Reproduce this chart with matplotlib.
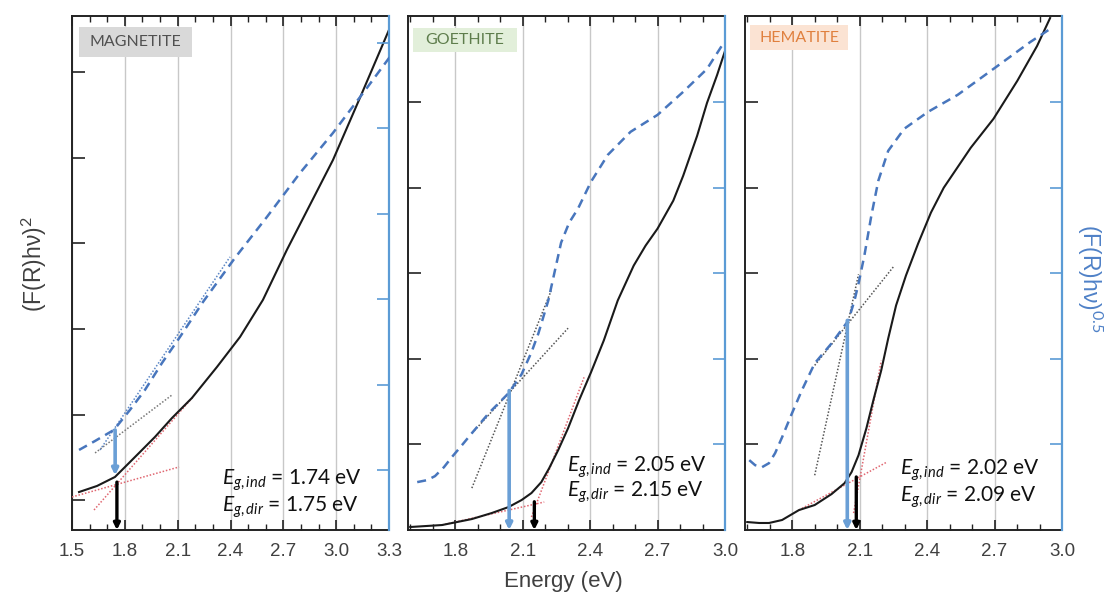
import matplotlib
matplotlib.use('Agg')
import matplotlib.pyplot as plt
from matplotlib.patches import Rectangle
from matplotlib.ticker import MultipleLocator, FormatStrFormatter

plt.rcParams['font.family'] = ['Liberation Sans', 'DejaVu Sans']
plt.rcParams['mathtext.fontset'] = 'custom'
plt.rcParams['mathtext.rm'] = 'Lato'
plt.rcParams['mathtext.it'] = 'Lato:italic'

# ---------------- data ----------------
minerals = ['MAGNETITE', 'GOETHITE', 'HEMATITE']
eg_ind = [1.74, 2.05, 2.02]
eg_dir = [1.75, 2.15, 2.09]

# MAGNETITE
mag_E_dir = [1.540, 1.642, 1.744, 1.801, 1.886, 1.971, 2.068, 2.181, 2.323, 2.454,
             2.584, 2.720, 2.851, 2.982, 3.135, 3.300]
mag_dir = [0.444, 0.515, 0.620, 0.737, 0.912, 1.088, 1.310, 1.544, 1.906, 2.257,
           2.690, 3.275, 3.801, 4.327, 5.053, 5.848]
mag_E_ind = [1.540, 1.631, 1.738, 1.829, 1.914, 2.011, 2.113, 2.244, 2.425, 2.607,
             2.795, 2.982, 3.175, 3.305]
mag_ind = [0.936, 1.041, 1.170, 1.404, 1.637, 1.953, 2.257, 2.667, 3.181, 3.661,
           4.175, 4.643, 5.170, 5.532]
mag_fit_ind_base = ([1.631, 2.068], [0.901, 1.579])
mag_fit_ind_edge = ([1.659, 2.397], [0.936, 3.193])
mag_fit_dir_base = ([1.500, 2.108], [0.386, 0.737])
mag_fit_dir_edge = ([1.625, 2.187], [0.234, 1.556])

# GOETHITE
goe_E_dir = [1.600, 1.741, 1.874, 1.962, 2.037, 2.095, 2.139, 2.183, 2.218, 2.258,
             2.302, 2.351, 2.404, 2.461, 2.523, 2.594, 2.647, 2.700, 2.770, 2.814,
             2.876, 2.920, 2.965, 3.000]
goe_dir = [0.035, 0.058, 0.128, 0.198, 0.268, 0.350, 0.432, 0.560, 0.723, 0.934,
           1.190, 1.517, 1.844, 2.217, 2.684, 3.092, 3.326, 3.524, 3.851, 4.142,
           4.609, 4.994, 5.321, 5.601]
goe_E_ind = [1.631, 1.675, 1.710, 1.750, 1.785, 1.830, 1.874, 1.949, 2.037, 2.095,
             2.139, 2.170, 2.214, 2.271, 2.307, 2.346, 2.404, 2.479, 2.580, 2.700,
             2.814, 2.920, 2.991]
goe_ind = [0.560, 0.583, 0.630, 0.735, 0.852, 0.992, 1.132, 1.365, 1.599, 1.820,
           2.077, 2.299, 2.684, 3.360, 3.594, 3.757, 4.072, 4.387, 4.656, 4.854,
           5.123, 5.391, 5.683]
goe_fit_ind_base = ([1.874, 2.302], [1.130, 2.360])
goe_fit_ind_edge = ([1.874, 2.227], [0.490, 2.800])
goe_fit_dir_base = ([1.741, 2.196], [0.058, 0.327])
goe_fit_dir_edge = ([2.139, 2.373], [0.152, 1.785])

# HEMATITE
hem_E_dir = [1.600, 1.653, 1.697, 1.755, 1.830, 1.900, 1.975, 2.033, 2.064, 2.095,
             2.130, 2.161, 2.196, 2.227, 2.262, 2.306, 2.360, 2.417, 2.474, 2.594,
             2.695, 2.801, 2.889, 2.947]
hem_dir = [0.093, 0.082, 0.082, 0.117, 0.233, 0.292, 0.420, 0.548, 0.677, 0.875,
           1.190, 1.517, 1.867, 2.240, 2.626, 2.976, 3.349, 3.711, 4.002, 4.469,
           4.807, 5.251, 5.659, 5.986]
hem_E_ind = [1.609, 1.635, 1.666, 1.697, 1.724, 1.755, 1.799, 1.843, 1.900, 1.975,
             2.050, 2.077, 2.095, 2.121, 2.152, 2.183, 2.227, 2.298, 2.404, 2.536,
             2.695, 2.859, 2.960]
hem_ind = [0.817, 0.758, 0.735, 0.782, 0.899, 1.085, 1.365, 1.634, 1.949, 2.182,
           2.450, 2.684, 2.882, 3.209, 3.676, 4.084, 4.434, 4.691, 4.889, 5.088,
           5.391, 5.706, 5.881]
hem_fit_ind_base = ([1.900, 2.254], [1.925, 3.090])
hem_fit_ind_edge = ([1.900, 2.095], [0.640, 2.990])
hem_fit_dir_base = ([1.830, 2.218], [0.233, 0.790])
hem_fit_dir_edge = ([2.073, 2.196], [0.198, 1.980])

# arrow positions
arrow_ind_E = [1.745, 2.040, 2.045]
arrow_ind_top = [1.17, 1.63, 2.45]
arrow_ind_bottom = [0.64, 0.0, 0.0]
arrow_dir_E = [1.755, 2.152, 2.085]
arrow_dir_top = [0.56, 0.33, 0.62]

x_limits = [(1.5, 3.3), (1.59, 3.0), (1.59, 3.0)]
x_ticks = [[1.5, 1.8, 2.1, 2.4, 2.7, 3.0, 3.3],
           [1.8, 2.1, 2.4, 2.7, 3.0],
           [1.8, 2.1, 2.4, 2.7, 3.0]]

# ---------------- styling ----------------
W, H = 1111, 605
fig = plt.figure(figsize=(W / 100, H / 100), dpi=100)
fig.patch.set_facecolor('white')

lefts_px = [72, 408, 745]
ax_w, ax_h, ax_bottom = 317, 514, 75
left_ticks = [[0.35, 1.35, 2.35, 3.35, 4.35, 5.35], [1, 2, 3, 4, 5], [1, 2, 3, 4, 5]]
right_ticks = [[0.70, 1.70, 2.70, 3.70, 4.70, 5.70], [1, 2, 3, 4, 5], [1, 2, 3, 4, 5]]

box_fc = ['#d9d9d9', '#e2efda', '#fbe3d3']
box_tc = ['#505050', '#5e7d4c', '#e0803e']
box_geom = [(0.022, 0.920, 0.357, 0.059), (0.016, 0.930, 0.328, 0.047),
            (0.016, 0.934, 0.309, 0.048)]
text_pos = [(0.473, 0.097, 0.045), (0.502, 0.123, 0.074), (0.489, 0.117, 0.064)]

BLUE_SP = '#5b9bd5'
DASH_C = '#4876bd'
ARROW_B = '#6a9fd6'
RED = '#e06670'
GRAY = '#555555'
TXT = '#404040'

panels = [
    dict(Ed=mag_E_dir, d=mag_dir, Ei=mag_E_ind, i=mag_ind,
         fib=mag_fit_ind_base, fie=mag_fit_ind_edge, fdb=mag_fit_dir_base, fde=mag_fit_dir_edge),
    dict(Ed=goe_E_dir, d=goe_dir, Ei=goe_E_ind, i=goe_ind,
         fib=goe_fit_ind_base, fie=goe_fit_ind_edge, fdb=goe_fit_dir_base, fde=goe_fit_dir_edge),
    dict(Ed=hem_E_dir, d=hem_dir, Ei=hem_E_ind, i=hem_ind,
         fib=hem_fit_ind_base, fie=hem_fit_ind_edge, fdb=hem_fit_dir_base, fde=hem_fit_dir_edge),
]

for k, p in enumerate(panels):
    ax = fig.add_axes([lefts_px[k] / W, ax_bottom / H, ax_w / W, ax_h / H])
    tw = ax.twinx()
    for a in (ax, tw):
        a.set_xlim(*x_limits[k])
        a.set_ylim(0, 6.01)
    ax.set_axisbelow(True)
    ax.grid(axis='x', which='major', color='#c8c8c8', lw=1.0)

    # fits (dotted)
    tw.plot(*p['fib'], ls=(0, (1, 1.2)), color=GRAY if k else '#777777', lw=1.1, zorder=3)
    tw.plot(*p['fie'], ls=(0, (1, 1.2)), color=GRAY if k else '#5b86c5', lw=1.1, zorder=3)
    ax.plot(*p['fdb'], ls=(0, (1, 1.2)), color=RED, lw=1.1, zorder=3)
    ax.plot(*p['fde'], ls=(0, (1, 1.2)), color=RED, lw=1.1, zorder=3)

    # curves
    ax.plot(p['Ed'], p['d'], color='#1a1a1a', lw=1.5, zorder=4)
    tw.plot(p['Ei'], p['i'], color=DASH_C, lw=1.8, dashes=(3.6, 2.4), zorder=4)

    # arrows
    tw.annotate('', xy=(arrow_ind_E[k], arrow_ind_bottom[k]), xytext=(arrow_ind_E[k], arrow_ind_top[k]),
                arrowprops=dict(arrowstyle='-|>', color=ARROW_B, lw=2.6, mutation_scale=9,
                                shrinkA=0, shrinkB=0), zorder=5)
    ax.annotate('', xy=(arrow_dir_E[k], 0.0), xytext=(arrow_dir_E[k], arrow_dir_top[k]),
                arrowprops=dict(arrowstyle='-|>', color='black', lw=2.4, mutation_scale=9,
                                shrinkA=0, shrinkB=0), zorder=5)

    # spines / ticks
    for s in ('left', 'bottom', 'top'):
        ax.spines[s].set_color('#222222')
        ax.spines[s].set_linewidth(1.4)
    ax.spines['right'].set_visible(False)
    for s in ('left', 'bottom', 'top'):
        tw.spines[s].set_visible(False)
    tw.spines['right'].set_color(BLUE_SP)
    tw.spines['right'].set_linewidth(1.6)

    ax.set_xticks(x_ticks[k])
    ax.xaxis.set_major_formatter(FormatStrFormatter('%.1f'))
    ax.xaxis.set_minor_locator(MultipleLocator(0.1))
    ax.tick_params(axis='x', which='major', direction='in', top=True, length=7, width=1.2,
                   labelsize=13.5, labelcolor=TXT, pad=9, color='#222222')
    ax.tick_params(axis='x', which='minor', direction='in', top=True, length=4, width=1.0,
                   color='#222222')
    ax.set_yticks(left_ticks[k])
    ax.tick_params(axis='y', direction='in', left=True, right=False, labelleft=False,
                   length=9, width=1.2, color='#222222')
    tw.set_yticks(right_ticks[k])
    tw.tick_params(axis='y', direction='in', right=True, labelright=False,
                   length=9, width=1.2, color=BLUE_SP)

    # mineral label box
    bx, by, bw, bh = box_geom[k]
    ax.add_patch(Rectangle((bx, by), bw, bh, transform=ax.transAxes, facecolor=box_fc[k],
                           edgecolor='none', zorder=6))
    ax.text(bx + bw / 2, by + bh / 2, minerals[k], transform=ax.transAxes, ha='center',
            va='center', fontsize=11.5, family=['Lato', 'DejaVu Sans'], color=box_tc[k], zorder=7)

    # band gap text
    tx, ty1, ty2 = text_pos[k]
    tw.text(tx, ty1, r'$E_{g,ind}$' + f' = {eg_ind[k]:.2f} eV', transform=ax.transAxes,
            ha='left', va='center', fontsize=15, family=['Lato', 'DejaVu Sans'],
            color='#111111', zorder=7)
    tw.text(tx, ty2, r'$E_{g,dir}$' + f' = {eg_dir[k]:.2f} eV', transform=ax.transAxes,
            ha='left', va='center', fontsize=15, family=['Lato', 'DejaVu Sans'],
            color='#111111', zorder=7)

fig.text(34 / W, 1 - 264 / H, '(F(R)hν)$^{2}$', rotation=90, ha='center', va='center',
         fontsize=16.5, color=TXT)
fig.text(1090 / W, 1 - 278 / H, '(F(R)hν)$^{0.5}$', rotation=270, ha='center', va='center',
         fontsize=16.5, color='#4f81c7')
fig.text(563 / W, 1 - 582 / H, 'Energy (eV)', ha='center', va='center', fontsize=16, color=TXT)

fig.savefig('out.png', dpi=100, facecolor='white')
